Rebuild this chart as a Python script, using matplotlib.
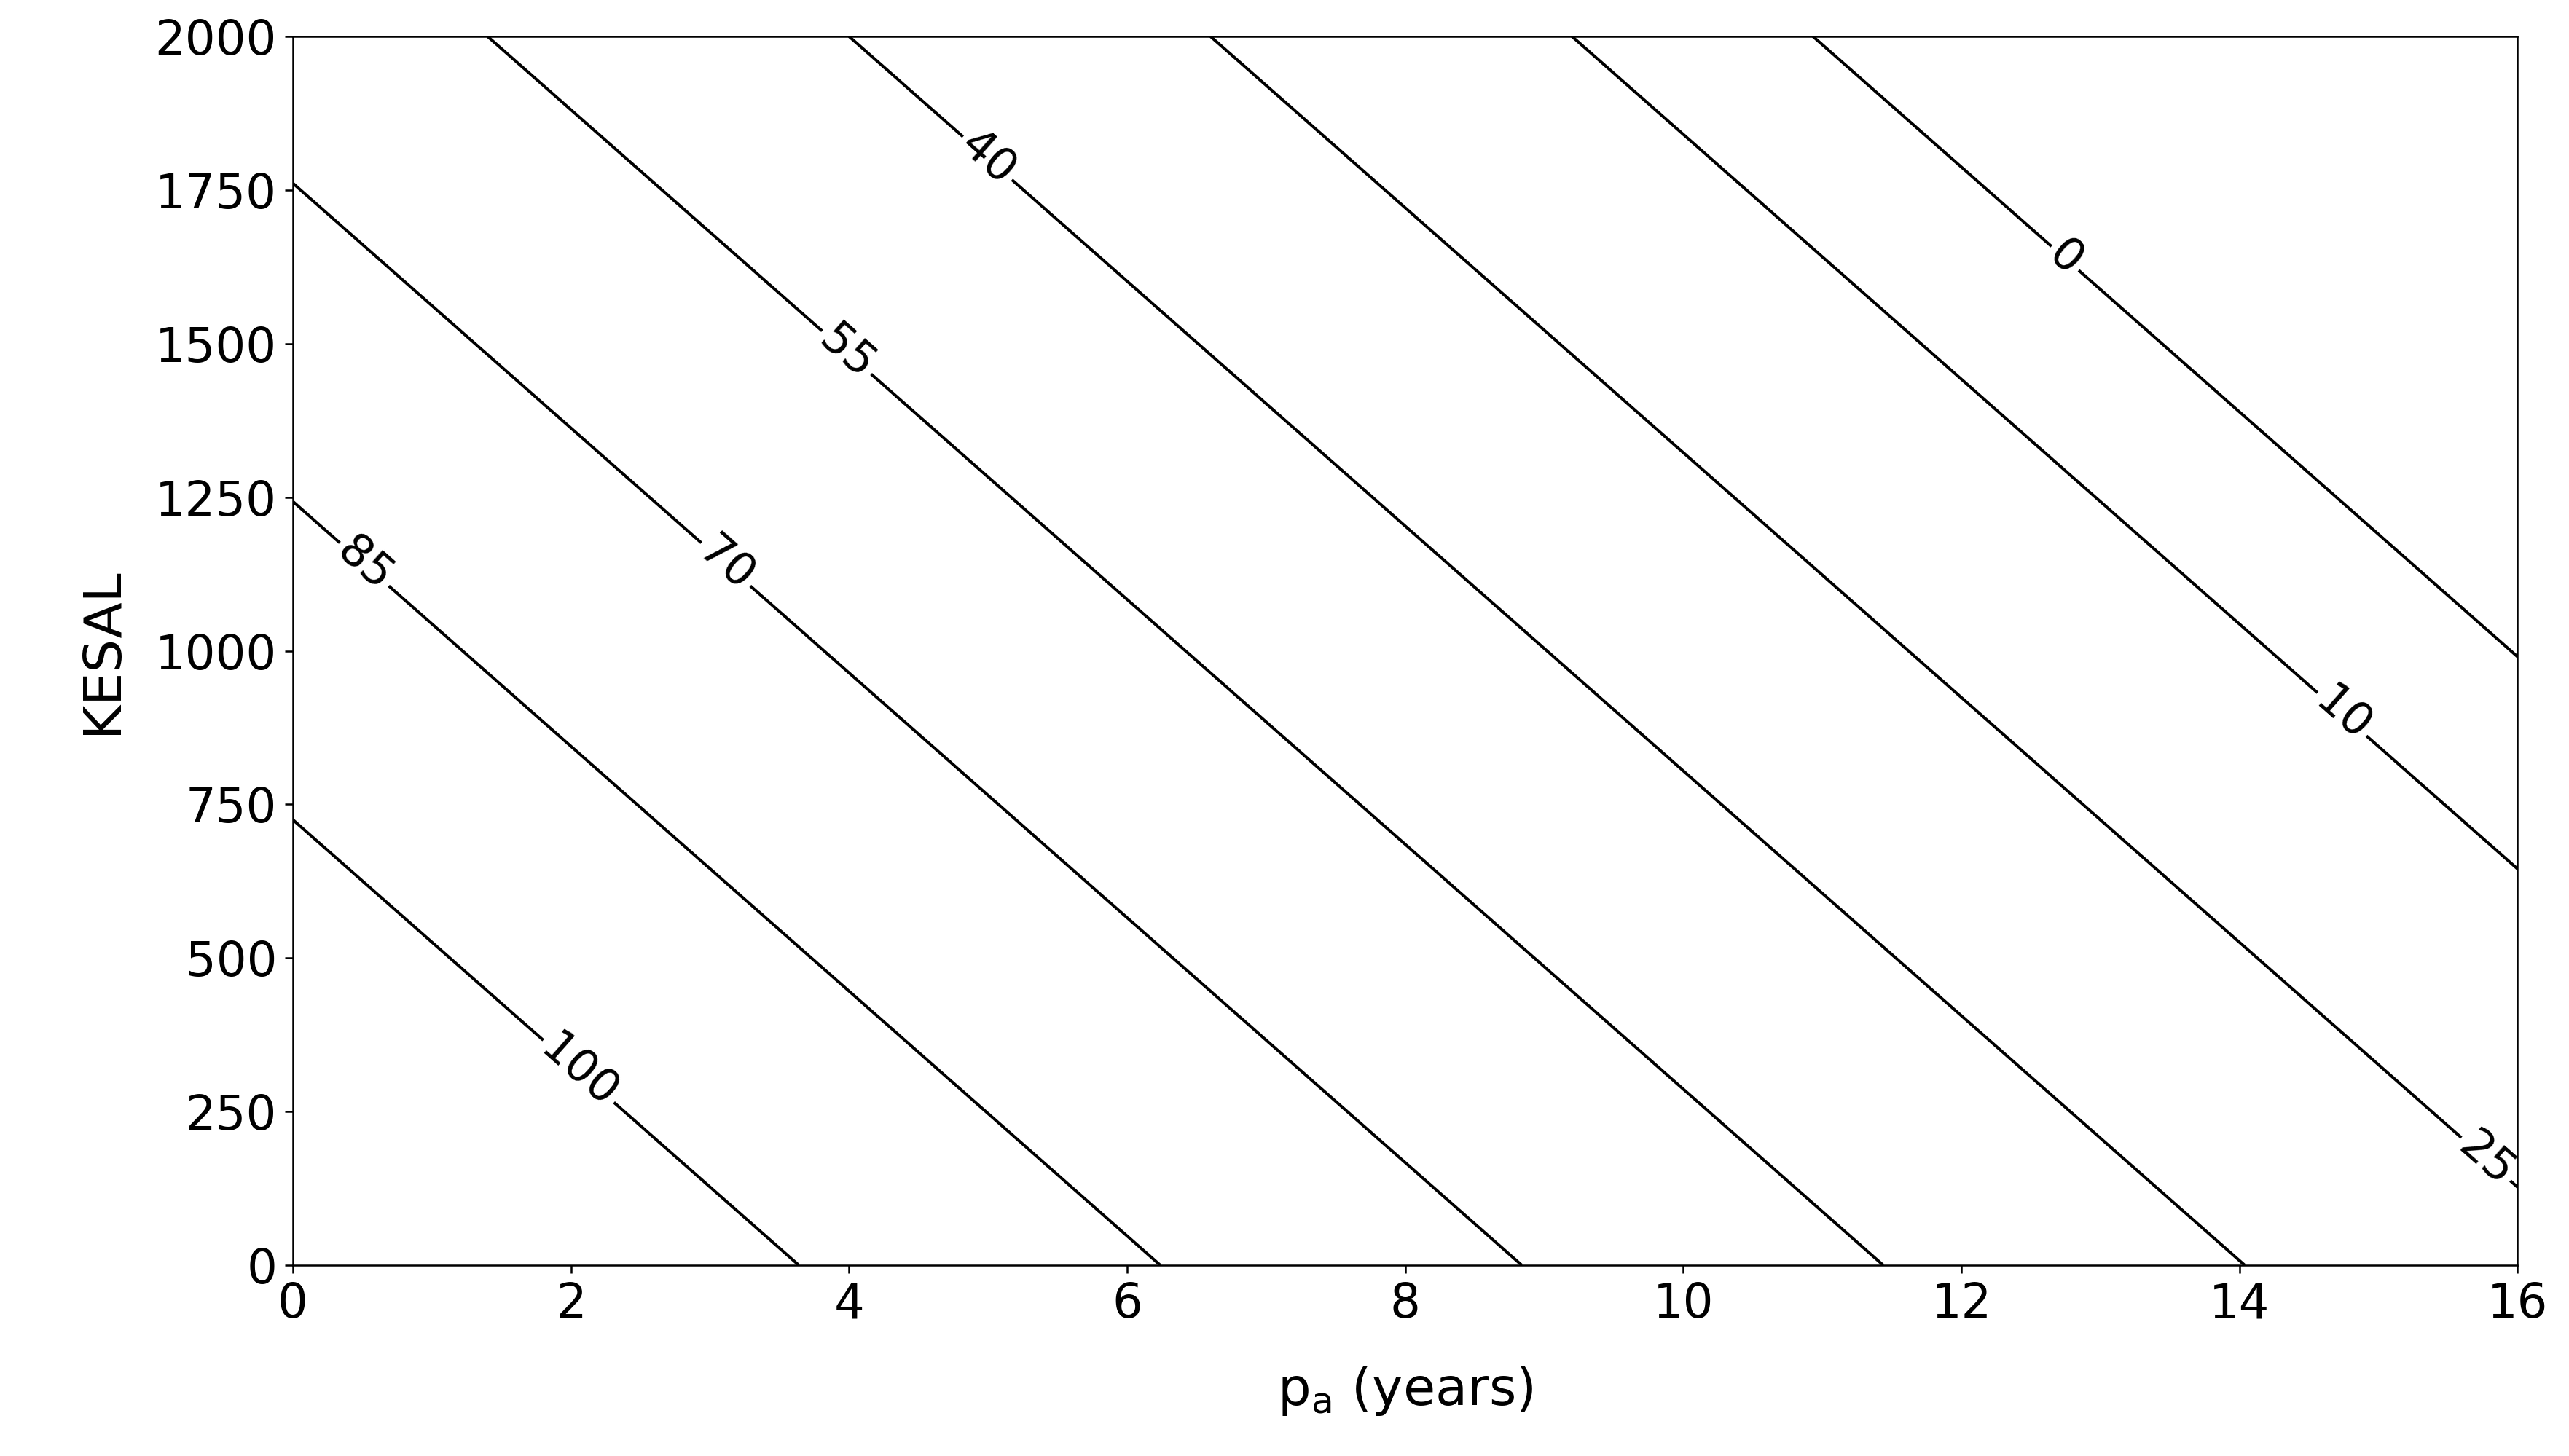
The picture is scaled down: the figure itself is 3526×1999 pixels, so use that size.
import numpy as np
from matplotlib import pyplot as plt

# contour levels and linear field coefficients
levels = [0, 10, 25, 40, 55, 70, 85, 100]
z0 = 121.0
slope_x = 5.77     # per year
slope_y = 0.02896  # per KESAL
label_pos = [(12.75, 1640), (14.75, 900), (15.8, 180), (4.95, 1790),
             (4.0, 1490), (3.15, 1150), (0.55, 1150), (2.5, 430)]

x = np.linspace(0, 16, 200)
y = np.linspace(0, 2000, 200)
X, Y = np.meshgrid(x, y)
Z = z0 - slope_x * X - slope_y * Y

fig = plt.figure(figsize=(3526 / 225, 1999 / 225), dpi=225)
ax = fig.add_axes([0.114, 0.131, 0.866, 0.844])
cs = ax.contour(X, Y, Z, levels=levels, colors='black', linewidths=1.3)
ax.clabel(cs, fmt='%d', fontsize=20, manual=label_pos, inline=True)
ax.set_xlim(0, 16)
ax.set_ylim(0, 2000)
ax.set_xticks(range(0, 17, 2))
ax.set_yticks(range(0, 2001, 250))
ax.tick_params(labelsize=21)
ax.set_xlabel(r'p$_\mathregular{a}$ (years)', fontsize=23, labelpad=16)
ax.set_ylabel('KESAL', fontsize=23, labelpad=12)
fig.savefig('out.png', dpi=225)
